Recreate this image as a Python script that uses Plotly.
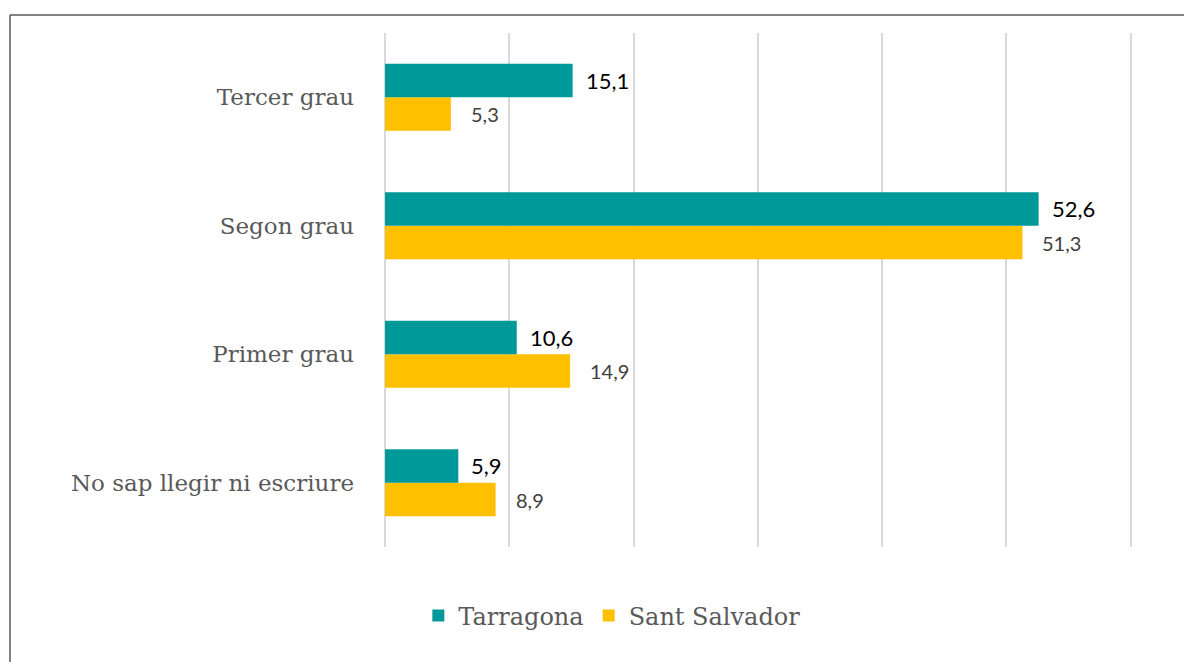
import plotly.graph_objects as go

categories = ["No sap llegir ni escriure", "Primer grau", "Segon grau", "Tercer grau"]
tarragona = [5.9, 10.6, 52.6, 15.1]
sant_salvador = [8.9, 14.9, 51.3, 5.3]
series_names = ["Tarragona", "Sant Salvador"]
x_ticks = [0, 10, 20, 30, 40, 50, 60]

TEAL = "#009999"
GOLD = "#FFC000"
GRAY_TXT = "#595959"

def fmt(v):
    return f"{v:.1f}".replace(".", ",")

fig = go.Figure()
fig.add_trace(go.Bar(
    y=categories, x=sant_salvador, orientation="h", name=series_names[1],
    marker=dict(color=GOLD, line=dict(width=0)), legendrank=2, hoverinfo="x+name",
))
fig.add_trace(go.Bar(
    y=categories, x=tarragona, orientation="h", name=series_names[0],
    marker=dict(color=TEAL, line=dict(width=0)), legendrank=1, hoverinfo="x+name",
))

annotations = []
for c, v in zip(categories, tarragona):
    annotations.append(dict(
        x=v, y=c, xref="x", yref="y", text=fmt(v), showarrow=False,
        xanchor="left", yanchor="middle", xshift=11, yshift=17,
        font=dict(family="Lato, Carlito, sans-serif", size=22, color="#000000"),
    ))
for c, v in zip(categories, sant_salvador):
    annotations.append(dict(
        x=v, y=c, xref="x", yref="y", text=fmt(v), showarrow=False,
        xanchor="left", yanchor="middle", xshift=18, yshift=-17,
        font=dict(family="Lato, Carlito, sans-serif", size=20, color="#404040"),
    ))

# figure frame (page has an 8px body margin)
W, H = 1184, 654
L, R, T, B = 377, 49, 25, 115
pw = W - L - R
ph = H - T - B
bx = (2 - L) / pw
by = (ph + T - 7) / ph
shapes = [
    dict(type="line", xref="paper", yref="paper", x0=bx, x1=(W + 20 - L) / pw, y0=by, y1=by,
         line=dict(color="#595959", width=1.5)),
    dict(type="line", xref="paper", yref="paper", x0=bx, x1=bx, y0=by, y1=-(B + 20) / ph,
         line=dict(color="#595959", width=1.5)),
]

fig.update_layout(
    width=W, height=H,
    margin=dict(l=L, r=R, t=T, b=B),
    paper_bgcolor="white", plot_bgcolor="white",
    barmode="group", bargap=0.48, bargroupgap=0,
    xaxis=dict(range=[0, 61], tickvals=x_ticks, showticklabels=False,
               showgrid=True, gridcolor="#D9D9D9", gridwidth=2,
               zeroline=True, zerolinecolor="#D9D9D9", zerolinewidth=2,
               showline=False, fixedrange=True),
    yaxis=dict(categoryorder="array", categoryarray=categories,
               showgrid=False, zeroline=False, showline=False, ticks="",
               ticklabelstandoff=30,
               tickfont=dict(family="DejaVu Serif, Liberation Serif, serif", size=23, color=GRAY_TXT)),
    legend=dict(orientation="h", xref="container", yref="container",
                x=0.51, y=0.0703, xanchor="center", yanchor="middle",
                font=dict(family="DejaVu Serif, Liberation Serif, serif", size=24, color=GRAY_TXT),
                itemsizing="constant"),
    annotations=annotations,
    shapes=shapes,
    showlegend=True,
)

fig.write_html("out.html")
